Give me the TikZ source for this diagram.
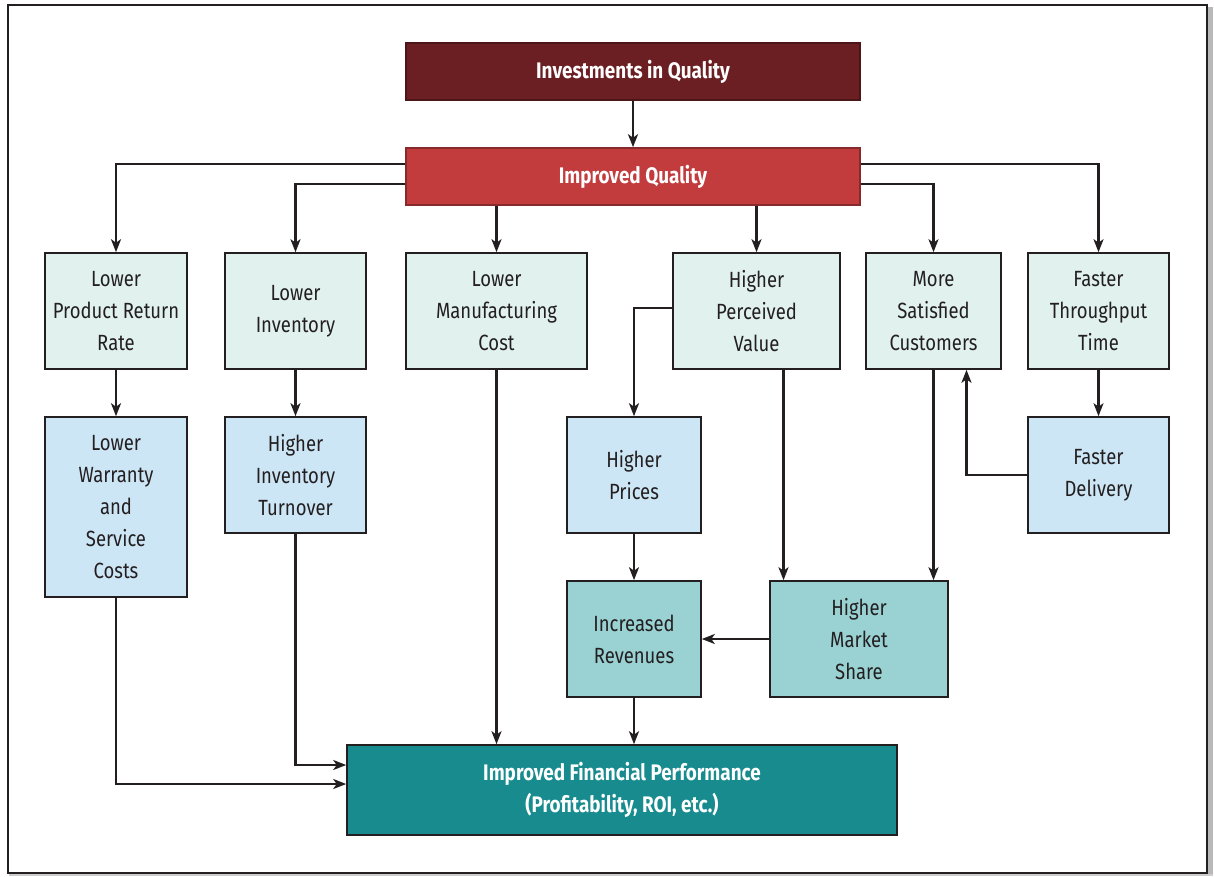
\documentclass[tikz,border=0pt]{standalone}
\usepackage{fontspec}
\setmainfont{Fira Sans}[FakeStretch=0.84]
\usetikzlibrary{arrows.meta}
\definecolor{inkline}{HTML}{231F20}
\definecolor{darkred}{HTML}{6B1F22}
\definecolor{brightred}{HTML}{C23B3D}
\definecolor{mint}{HTML}{E1F2EE}
\definecolor{paleblue}{HTML}{CDE6F6}
\definecolor{lightteal}{HTML}{9AD2D4}
\definecolor{deepteal}{HTML}{178B8E}
\tikzset{
  x=1pt, y=-1pt,
  box/.style={draw=inkline, line width=1.6pt, rectangle, inner sep=0pt, align=center,
    text=inkline, font=\fontsize{22}{32}\selectfont},
  headbox/.style={box, text=white, font=\fontsize{22.5}{32}\selectfont\bfseries,
    minimum width=454pt, minimum height=57pt},
  stdbox/.style={box, minimum height=116pt},
  link/.style={draw=inkline, line width=2.2pt, -{Stealth[length=13pt,width=10pt,inset=3.5pt]}},
}
\begin{document}
\begin{tikzpicture}
\useasboundingbox (0,0) rectangle (1214,876);
% outer frame with a soft shadow on the right
\fill[gray!55] (1208,7) rectangle (1213,876);
\fill[gray!40] (9,874) rectangle (1213,876);
\draw[line width=2.6pt, inkline] (8,5) rectangle (1207,873);

% top chain
\node[headbox, fill=darkred, draw=darkred!70!black] (inv) at (633,71.5) {Investments in Quality};
\node[headbox, fill=brightred, draw=brightred!70!black] (iq) at (633,176.5) {Improved Quality};

% first row
\node[stdbox, fill=mint, minimum width=142pt] (lprr) at (116,311) {Lower\\Product Return\\Rate};
\node[stdbox, fill=mint, minimum width=141pt] (linv) at (295.5,311) {Lower\\Inventory};
\node[stdbox, fill=mint, minimum width=181pt] (lmc) at (496.5,311) {Lower\\Manufacturing\\Cost};
\node[stdbox, fill=mint, minimum width=167pt] (hpv) at (756.5,311) {Higher\\Perceived\\Value};
\node[stdbox, fill=mint, minimum width=135pt] (msc) at (933.5,311) {More\\Satisfied\\Customers};
\node[stdbox, fill=mint, minimum width=141pt] (ftt) at (1098.5,311) {Faster\\Throughput\\Time};

% second row
\node[box, fill=paleblue, minimum width=142pt, minimum height=180pt] (lwsc) at (116,507) {Lower\\Warranty\\and\\Service\\Costs};
\node[stdbox, fill=paleblue, minimum width=141pt] (hit) at (295.5,475) {Higher\\Inventory\\Turnover};
\node[stdbox, fill=paleblue, minimum width=134pt] (hp) at (634,475) {Higher\\Prices};
\node[stdbox, fill=paleblue, minimum width=141pt] (fd) at (1098.5,475) {Faster\\Delivery};

% third row
\node[stdbox, fill=lightteal, minimum width=134pt] (ir) at (634,639) {Increased\\Revenues};
\node[stdbox, fill=lightteal, minimum width=178pt] (hms) at (859,639) {Higher\\Market\\Share};

% result
\node[box, fill=deepteal, text=white, font=\fontsize{22.5}{32}\selectfont\bfseries,
  minimum width=550pt, minimum height=90pt] (ifp) at (622,790)
  {Improved Financial Performance\\(Profitability, ROI, etc.)};

% connectors
\draw[link] (inv) -- (iq);
\draw[link] ([yshift=12.5pt]iq.west) -| (lprr.north);
\draw[link] ([yshift=-7.5pt]iq.west) -| (linv.north);
\draw[link] (iq.south -| lmc.north) -- (lmc.north);
\draw[link] (iq.south -| hpv.north) -- (hpv.north);
\draw[link] ([yshift=-7.5pt]iq.east) -| (msc.north);
\draw[link] ([yshift=12.5pt]iq.east) -| (ftt.north);

\draw[link] (lprr) -- (lwsc);
\draw[link] (linv) -- (hit);
\draw[link] (ftt) -- (fd);
\draw[link] (fd.west) -| ([xshift=33pt]msc.south);

\draw[link] ([yshift=3pt]hpv.west) -| (hp.north);
\draw[link] ([xshift=27pt]hpv.south) -- ([xshift=27pt]hpv.south |- hms.north);
\draw[link] (msc.south) -- (msc.south |- hms.north);
\draw[link] (hp) -- (ir);
\draw[link] (hms.west) -- (ir.east);

\draw[link] (ir.south) -- (ir.south |- ifp.north);
\draw[link] (lmc.south) -- (lmc.south |- ifp.north);
\draw[link] (hit.south) |- ([yshift=25pt]ifp.west);
\draw[link] (lwsc.south) |- ([yshift=6pt]ifp.west);
\end{tikzpicture}
\end{document}
